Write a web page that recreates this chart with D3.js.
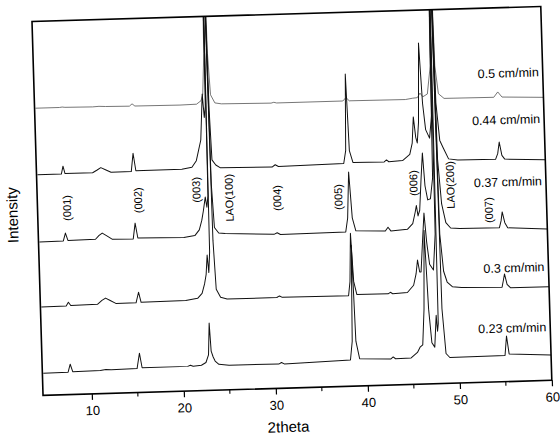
<!DOCTYPE html>
<html>
<head>
<meta charset="utf-8">
<script src="https://cdn.jsdelivr.net/npm/d3@7"></script>
<style>
  body { margin: 0; background: #fff; }
  text { font-family: "Liberation Sans", Arial, sans-serif; }
</style>
</head>
<body>
<div id="chart"></div>
<script>
// growth speed of each scan, top to bottom
const speeds = ["0.5 cm/min", "0.44 cm/min", "0.37 cm/min", "0.3 cm/min", "0.23 cm/min"];

// [2theta, intensity (stacked, arb. units)]
const scan050 = [[4.8,76.8],[7.4,76.8],[7.7,76.9],[8.0,76.8],[11.0,76.7],[11.7,76.8],[12.4,76.7],[15.0,76.6],[15.3,77.2],[15.6,76.6],
  [20.5,76.5],[22.3,76.6],[22.8,77.5],[23.0,79],[23.25,90],[23.45,140],[23.65,90],[23.85,79],[24.3,76.8],[25,76.5],
  [30.4,76.3],[30.7,76.5],[31,76.3],[38.2,76.3],[38.55,77.2],[38.9,76.3],[45,76.2],[45.8,76.5],[46.3,76.6],[46.6,77.8],
  [46.9,76.8],[47.4,77.5],[47.8,85],[48.05,140],[48.3,85],[48.6,77.5],[49.2,76.2],[54.6,76.1],[55.05,77.5],[55.5,76.1],[60,75.7]];
const scan044 = [[4.8,59.0],[7.4,59.0],[7.6,61.1],[7.8,59.1],[10.8,59.1],[11.3,59.8],[11.7,60.4],[12.2,59.8],[12.8,59.1],[15.0,59.1],
  [15.25,64.0],[15.5,59.3],[20.5,59.3],[21.6,59.8],[22.1,61.5],[22.4,64.5],[22.65,67],[22.95,79.3],[23.1,73],[23.25,76],
  [23.45,140],[23.65,75],[23.8,61.6],[24.2,60.2],[24.7,59.4],[30.3,59.2],[30.65,59.8],[31.0,59.3],[38.1,59.6],[38.35,63],
  [38.55,83.5],[38.75,63],[39.1,59.8],[42.5,59.7],[42.75,60.2],[43,59.7],[44.5,59.9],[45.3,61.5],[45.6,64.5],[45.8,71.5],
  [46.0,66],[46.15,64.5],[46.35,70],[46.6,91.2],[46.85,75],[47.1,68],[47.5,65.7],[47.8,72],[48.05,140],[48.3,75],
  [48.6,65],[48.97,62.9],[49.5,60],[50.5,59.6],[54.6,59.5],[54.85,61],[55.05,64.1],[55.3,60.5],[55.6,59.5],[60,59.0]];
const scan037 = [[4.8,41.0],[7.4,41.1],[7.65,43.2],[7.9,41.2],[10.9,41.3],[11.3,42.3],[11.65,42.9],[12.1,42.2],[12.7,41.2],[15.0,41.1],
  [15.25,45.3],[15.5,41.3],[20.5,41.1],[21.7,41.5],[22.2,43],[22.5,45.5],[22.7,48],[22.95,51.7],[23.1,49],[23.25,52],
  [23.45,140],[23.65,55],[23.85,43.5],[24.3,42],[25,41.8],[30.3,41.2],[30.65,41.6],[31,41.1],[38.1,41.3],[38.35,45],
  [38.6,57.3],[38.85,45],[39.2,41.5],[42.4,41.2],[42.7,42.2],[43.0,41.2],[44.8,41.5],[45.4,43],[45.7,46],[45.85,47.8],
  [46.0,45],[46.2,46.5],[46.45,55],[46.67,61.8],[46.85,53],[47.1,49.2],[47.4,49.5],[47.7,55],[48.05,140],[48.3,60],
  [48.6,48],[49.0,43],[49.5,41.5],[50.5,41.3],[54.8,41.2],[55.0,43],[55.15,45.4],[55.4,42.5],[55.7,41.1],[60,40.5]];
const scan030 = [[4.8,23.6],[7.5,23.7],[7.75,24.7],[8.0,23.8],[10.9,23.9],[11.4,24.9],[11.8,25.5],[12.3,24.8],[12.9,24.0],[15.1,24.0],
  [15.4,26.8],[15.65,24.1],[20.5,24.2],[21.8,24.7],[22.3,26],[22.6,28.5],[22.8,31],[22.97,36.2],[23.1,31.5],[23.25,37],
  [23.45,140],[23.65,40],[23.85,27],[24.3,24.8],[25,24.3],[30.4,24.3],[30.7,24.7],[31,24.3],[38.2,24.2],[38.4,28],
  [38.6,40.9],[38.8,28],[39.1,24.5],[42.5,24.4],[42.75,24.8],[43,24.4],[44.6,24.6],[45.3,26.5],[45.6,29.5],[45.8,33.2],
  [46.0,30],[46.15,30],[46.4,38],[46.65,45.7],[46.85,38],[47.1,32],[47.5,30.4],[47.8,40],[48.05,140],[48.3,40],
  [48.6,30],[48.95,27.1],[49.5,25.8],[50.5,25.5],[54.9,25.3],[55.05,27],[55.2,28.8],[55.45,26],[55.8,25.1],[60,25.0]];
const scan023 = [[4.8,5.9],[7.5,6.0],[7.75,8.1],[8.0,6.1],[11,6.2],[11.6,6.4],[12.2,6.3],[15.0,6.4],[15.3,10.5],[15.55,6.6],
  [20.5,6.6],[20.8,6.9],[21.1,6.6],[22.0,6.8],[22.5,7.5],[22.8,9.5],[22.97,18.0],[23.1,10.5],[23.3,8.9],[23.5,7.8],
  [23.9,6.9],[25,6.6],[30.4,6.5],[30.7,6.9],[31,6.5],[38.2,7.0],[38.45,12],[38.65,37.7],[38.85,12],[39.2,7.3],
  [42.6,7.0],[42.85,7.5],[43.1,7.0],[44.8,7.1],[45.5,8.5],[45.8,9.9],[46.1,10.5],[46.35,20],[46.6,41.1],[46.85,20],
  [47.1,11],[47.4,9.8],[47.65,18.3],[47.75,14],[47.85,16],[48.05,140],[48.3,20],[48.6,8],[49.0,6.9],[50.5,6.9],
  [55.0,7.0],[55.22,12.2],[55.45,7.4],[60,6.8]];

// reflections marked on the plot
const peakNames = ["(001)", "(002)", "(003)", "LAO(100)", "(004)", "(005)", "(006)", "LAO(200)", "(007)"];
const peakAngles = [7.9, 15.65, 22.0, 25.55, 30.76, 37.4, 45.6, 49.6, 53.7];

const majorTicks = [10, 20, 30, 40, 50, 60];
const minorTicks = [15, 25, 35, 45, 55];

const scans = [scan050, scan044, scan037, scan030, scan023];

let margin = { left: 32, top: 21.5 };
let chart_width = 509;
let chart_height = 374;

let svg = d3
  .select("#chart")
  .append("svg")
  .attr("width", 560)
  .attr("height", 435);

svg.append("rect").attr("width", 560).attr("height", 435).attr("fill", "#fff");

// the scanned figure sits slightly tilted
let g = svg
  .append("g")
  .attr("transform", `translate(${margin.left},${margin.top}) rotate(-1.69)`);

let x = d3.scaleLinear().domain([4.7, 60]).range([0, chart_width]);
let y = d3.scaleLinear().domain([0, 100]).range([chart_height, 0]);

g.append("clipPath")
  .attr("id", "plot-clip")
  .append("rect")
  .attr("width", chart_width)
  .attr("height", chart_height);

let line = d3
  .line()
  .x((d) => x(d[0]))
  .y((d) => y(d[1]));

g.append("g")
  .attr("clip-path", "url(#plot-clip)")
  .selectAll("path")
  .data(scans)
  .enter()
  .append("path")
  .attr("d", line)
  .attr("fill", "none")
  .attr("stroke", (d, i) => (i == 0 ? "#555" : "#111"))
  .attr("stroke-width", (d, i) => (i == 0 ? 0.8 : 1))
  .attr("stroke-linejoin", "round");

// x axis, major + minor ticks
let xAxis = g
  .append("g")
  .attr("transform", `translate(0,${chart_height})`)
  .call(d3.axisBottom(x).tickValues(majorTicks).tickSize(6).tickPadding(6));
xAxis.select(".domain").remove();
xAxis.selectAll("line").attr("stroke", "#000").attr("stroke-width", 1.2);
xAxis.selectAll("text").attr("font-size", 13).attr("fill", "#000").style("font-family", '"Liberation Sans", Arial, sans-serif');

g.append("g")
  .attr("transform", `translate(0,${chart_height})`)
  .selectAll("line")
  .data(minorTicks)
  .enter()
  .append("line")
  .attr("x1", (d) => x(d))
  .attr("x2", (d) => x(d))
  .attr("y1", 0)
  .attr("y2", 4)
  .attr("stroke", "#000")
  .attr("stroke-width", 1.1);

// frame
g.append("rect")
  .attr("width", chart_width)
  .attr("height", chart_height)
  .attr("fill", "none")
  .attr("stroke", "#000")
  .attr("stroke-width", 1.6);

// axis titles
g.append("text")
  .attr("x", chart_width / 2 - 10)
  .attr("y", chart_height + 44)
  .attr("text-anchor", "middle")
  .attr("font-size", 15)
  .text("2theta");

g.append("text")
  .attr("transform", `translate(-20,${chart_height / 2 + 6}) rotate(-90)`)
  .attr("text-anchor", "middle")
  .attr("font-size", 15)
  .text("Intensity");

// speed labels at the right end of each scan
let speedLevels = [82.5, 70.0, 53.4, 30.4, 14.3];
g.selectAll(".speed")
  .data(speeds)
  .enter()
  .append("text")
  .attr("class", "speed")
  .attr("x", chart_width - 4)
  .attr("y", (d, i) => y(speedLevels[i]))
  .attr("dy", "0.35em")
  .attr("text-anchor", "end")
  .attr("font-size", 12.5)
  .text((d) => d);

// reflection labels, vertical
let peakLevels = [49.9, 51.4, 53.7, 51.3, 50.9, 50.7, 53.8, 53.0, 46.0];
g.selectAll(".hkl")
  .data(peakNames)
  .enter()
  .append("text")
  .attr("class", "hkl")
  .attr("transform", (d, i) => `translate(${x(peakAngles[i])},${y(peakLevels[i])}) rotate(-90)`)
  .attr("text-anchor", "middle")
  .attr("dy", "0.35em")
  .attr("font-size", 11)
  .text((d) => d);
</script>
</body>
</html>
